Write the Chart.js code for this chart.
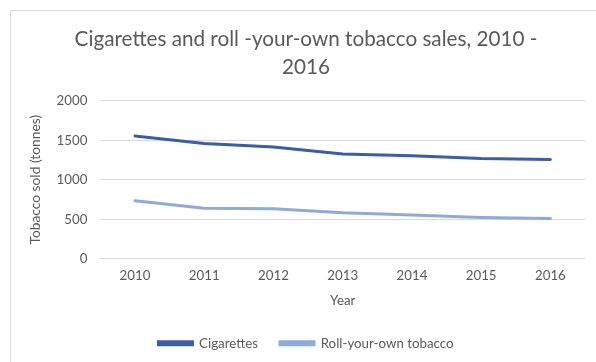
<!DOCTYPE html>
<html>
<head>
<meta charset="utf-8">
<script src="https://cdn.jsdelivr.net/npm/chart.js@4"></script>
<style>
  html, body { margin: 0; padding: 0; background: #ffffff; }
  #wrap { width: 596px; height: 362px; position: relative; }
</style>
</head>
<body>
<div id="wrap"><canvas id="chart" width="596" height="362"></canvas></div>
<script>
// Tobacco sales by year (tonnes)
const years = ['2010', '2011', '2012', '2013', '2014', '2015', '2016'];
const cigarettes = [1555, 1460, 1415, 1325, 1305, 1270, 1255];
const rollYourOwn = [735, 640, 632, 582, 553, 522, 510];
const seriesNames = ['Cigarettes', 'Roll-your-own tobacco'];
const titleLines = ['Cigarettes and roll -your-own tobacco sales, 2010 -', '2016'];
const yTicks = [0, 500, 1000, 1500, 2000];

const FONT = "Lato, Carlito, Calibri, 'Open Sans', sans-serif";
const TEXT = '#595959';
const GRID = '#d9d9d9';

// Thin frame around the chart area (top and left edges visible)
const framePlugin = {
  id: 'frame',
  afterDraw(chart) {
    const ctx = chart.ctx;
    ctx.save();
    ctx.strokeStyle = GRID;
    ctx.lineWidth = 1;
    ctx.beginPath();
    ctx.moveTo(10.5, chart.height + 2);
    ctx.lineTo(10.5, 10.5);
    ctx.lineTo(chart.width + 2, 10.5);
    ctx.stroke();
    ctx.restore();
  }
};

new Chart(document.getElementById('chart'), {
  type: 'line',
  data: {
    labels: years,
    datasets: [
      {
        label: seriesNames[0],
        data: cigarettes,
        borderColor: '#3a5da8',
        backgroundColor: '#3a5da8',
        borderWidth: 3,
        pointRadius: 0,
        tension: 0,
        borderCapStyle: 'round'
      },
      {
        label: seriesNames[1],
        data: rollYourOwn,
        borderColor: '#8eaadb',
        backgroundColor: '#8eaadb',
        borderWidth: 3,
        pointRadius: 0,
        tension: 0,
        borderCapStyle: 'round'
      }
    ]
  },
  options: {
    responsive: false,
    animation: false,
    layout: { padding: { left: 27, right: 11, top: 0, bottom: 2 } },
    plugins: {
      title: {
        display: true,
        text: titleLines,
        color: TEXT,
        font: { family: FONT, size: 20.7, weight: 'normal', lineHeight: 1.37 },
        padding: { top: 25, bottom: 19 }
      },
      legend: {
        position: 'bottom',
        labels: {
          color: TEXT,
          font: { family: FONT, size: 13.3 },
          boxWidth: 34,
          boxHeight: 3,
          padding: 22
        }
      },
      tooltip: { enabled: false }
    },
    scales: {
      x: {
        offset: true,
        grid: { display: false, drawTicks: false },
        border: { display: false },
        ticks: { color: TEXT, font: { family: FONT, size: 13.3, lineHeight: 1.05 }, padding: 10, maxRotation: 0 },
        title: {
          display: true,
          text: 'Year',
          color: TEXT,
          font: { family: FONT, size: 13.3 },
          padding: { top: 0, bottom: 6 }
        }
      },
      y: {
        min: 0,
        max: 2000,
        afterBuildTicks(scale) { scale.ticks = yTicks.map(v => ({ value: v })); },
        grid: { color: GRID, lineWidth: 1, drawTicks: false },
        border: { display: false },
        ticks: {
          color: TEXT,
          font: { family: FONT, size: 13.3 },
          padding: 13,
          callback: (v) => String(v)
        },
        title: {
          display: true,
          text: 'Tobacco sold (tonnes)',
          color: TEXT,
          font: { family: FONT, size: 13.8 },
          padding: { top: 0, bottom: 0 }
        }
      }
    }
  },
  plugins: [framePlugin]
});
</script>
</body>
</html>
